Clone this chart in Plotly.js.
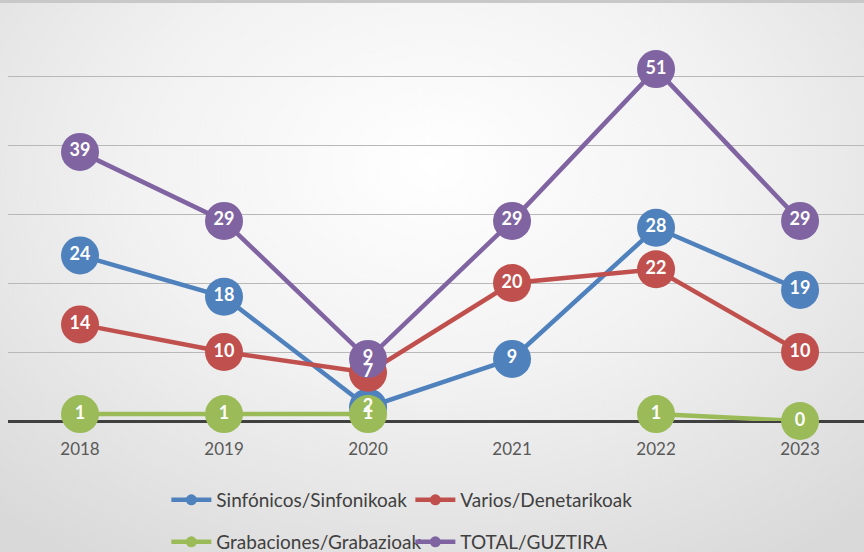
<!DOCTYPE html>
<html>
<head>
<meta charset="utf-8">
<script src="https://cdn.plot.ly/plotly-3.0.1.min.js"></script>
<style>
html,body{margin:0;padding:0;}
body{width:864px;height:552px;overflow:hidden;
background: radial-gradient(ellipse 75% 85% at 50% 30%, #ffffff 0%, #f2f2f2 45%, #d9d9d9 100%);}
#top{position:absolute;left:0;top:0;width:864px;height:3px;background:#c8c8c8;}
#chart{width:864px;height:552px;position:absolute;left:0;top:0;}
</style>
</head>
<body>
<div id="top"></div>
<div id="chart"></div>
<script>
const years = ['2018','2019','2020','2021','2022','2023'];
const sinfonicos = [24, 18, 2, 9, 28, 19];
const varios = [14, 10, 7, 20, 22, 10];
const grabaciones = [1, 1, 1, null, 1, 0];
const total = [39, 29, 9, 29, 51, 29];

const names = ['Sinfónicos/Sinfonikoak','Varios/Denetarikoak','Grabaciones/Grabazioak','TOTAL/GUZTIRA'];
const colors = ['#4f81bd','#c0504d','#9bbb59','#8064a2'];
const series = [sinfonicos, varios, grabaciones, total];
const legends = ['legend','legend','legend2','legend2'];

const traces = [];
series.forEach((ys,i)=>{
  traces.push({
    x: years, y: ys, name: names[i], type:'scatter', mode:'lines+markers',
    line:{color:colors[i], width:4.5}, marker:{color:colors[i], size:38},
    connectgaps:false, showlegend:false, cliponaxis:false, hoverinfo:'skip'
  });
});
series.forEach((ys,i)=>{
  traces.push({
    x: years, y: ys, type:'scatter', mode:'text', showlegend:false, cliponaxis:false,
    text: ys.map(v=> v===null ? '' : String(v)),
    textposition:'middle center',
    textfont:{family:'Lato, "Open Sans", sans-serif', size:18, color:'#ffffff', weight:'bold'},
    hoverinfo:'skip'
  });
});
// legend entries
series.forEach((ys,i)=>{
  traces.push({
    x:[null], y:[null], name: names[i], type:'scatter', mode:'lines+markers',
    line:{color:colors[i], width:4.5}, marker:{color:colors[i], size:11},
    legend: legends[i], showlegend:true, hoverinfo:'skip'
  });
});

const legendFont = {family:'Lato, "Open Sans", sans-serif', size:19, color:'#404040'};
const layout = {
  width:864, height:552,
  margin:{l:8, r:0, t:7, b:131},
  paper_bgcolor:'rgba(0,0,0,0)', plot_bgcolor:'rgba(0,0,0,0)',
  xaxis:{type:'category', range:[-0.5, 5.444], showgrid:false, zeroline:false,
    showline:false, ticks:'', ticklabelstandoff:16,
    tickfont:{family:'Lato, "Open Sans", sans-serif', size:17, color:'#595959'},
    fixedrange:true},
  yaxis:{range:[0,60], dtick:10, showticklabels:false, gridcolor:'#b8b8b8', gridwidth:1,
    zeroline:true, zerolinecolor:'#404040', zerolinewidth:3, showline:false, ticks:''},
  legend:{orientation:'h', x:0.185, xanchor:'left', xref:'paper', y:0.1286, yref:'container', yanchor:'top',
    bgcolor:'rgba(0,0,0,0)', font:legendFont, entrywidth:189, entrywidthmode:'pixels', itemwidth:40},
  legend2:{orientation:'h', x:0.185, xanchor:'left', xref:'paper', y:0.0525, yref:'container', yanchor:'top',
    bgcolor:'rgba(0,0,0,0)', font:legendFont, entrywidth:189, entrywidthmode:'pixels', itemwidth:40},
  showlegend:true
};
Plotly.newPlot('chart', traces, layout, {displayModeBar:false, staticPlot:true});
</script>
</body>
</html>
